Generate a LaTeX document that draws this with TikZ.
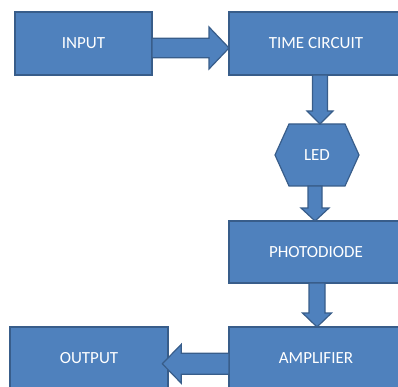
\documentclass[tikz,border=0pt]{standalone}
\usepackage{fontspec}
\setmainfont{Carlito}
\usetikzlibrary{calc,backgrounds}
\definecolor{fillc}{HTML}{4F81BD}
\definecolor{bdr}{HTML}{385D8A}
\newcommand\myblockarrow[5]{%
  \coordinate (hbase) at ($(#2)!#5!(#1)$);
  \path[barrowstyle]
    ($(#1)!#3!90:(#2)$) -- ($(hbase)!#3!90:(#2)$) -- ($(hbase)!#4!90:(#2)$) --
    (#2) -- ($(hbase)!#4!-90:(#2)$) -- ($(hbase)!#3!-90:(#2)$) --
    ($(#1)!#3!-90:(#2)$) -- cycle;}
\tikzset{
  blockbox/.style={draw=bdr, fill=fillc, line width=1.2pt, text=white,
    font=\fontsize{17}{20}\selectfont, inner sep=0pt, outer sep=0pt},
  ledtext/.style={text=white, font=\fontsize{17}{20}\selectfont, inner sep=0pt,
    outer sep=0pt, minimum width=84pt, minimum height=62pt},
  barrowstyle/.style={draw=bdr, fill=fillc, line width=1.2pt, line join=miter},
}
\begin{document}
\begin{tikzpicture}[x=1pt,y=-1pt]
\useasboundingbox (0,0) rectangle (398,387);
\clip (0,0) rectangle (398,387);
\node[blockbox, minimum width=137pt, minimum height=63pt] (in) at (83.5,43.5) {INPUT};
\node[blockbox, minimum width=174pt, minimum height=63pt] (tc) at (316,43.5) {TIME CIRCUIT};
\node[ledtext] (led) at (317,155) {LED};
\begin{scope}[on background layer]
\path[blockbox] (led.west) -- ($(led.north west)+(14,0)$) -- ($(led.north east)+(-14,0)$)
  -- (led.east) -- ($(led.south east)+(-14,0)$) -- ($(led.south west)+(14,0)$) -- cycle;
\end{scope}
\node[blockbox, minimum width=174pt, minimum height=62pt] (pd) at (316,252) {PHOTODIODE};
\node[blockbox, minimum width=174pt, minimum height=63pt] (amp) at (316,358.5) {AMPLIFIER};
\node[blockbox, minimum width=158pt, minimum height=63pt] (out) at (89,358.5) {OUTPUT};
% connectors
\coordinate (a1s) at ($(in.east)+(0,4.5)$);
\coordinate (a1t) at ($(tc.west)+(0,4.5)$);
\myblockarrow{a1s}{a1t}{9.75pt}{21pt}{20pt}
\coordinate (a2s) at ($(tc.south)+(4,0)$);
\coordinate (a2t) at (a2s |- led.north);
\myblockarrow{a2s}{a2t}{7.5pt}{13pt}{13pt}
\coordinate (a3s) at ($(led.south)+(-2,0)$);
\coordinate (a3t) at (a3s |- pd.north);
\myblockarrow{a3s}{a3t}{7pt}{14pt}{13pt}
\coordinate (a4s) at ($(pd.south)+(1,0)$);
\coordinate (a4t) at (a4s |- amp.north);
\myblockarrow{a4s}{a4t}{8pt}{14.5pt}{14pt}
\coordinate (a5s) at ($(amp.west)+(0,5.3)$);
\coordinate (a5t) at ($(out.east)+(-5.7,5.3)$);
\myblockarrow{a5s}{a5t}{10.5pt}{19.5pt}{19pt}
\end{tikzpicture}
\end{document}
